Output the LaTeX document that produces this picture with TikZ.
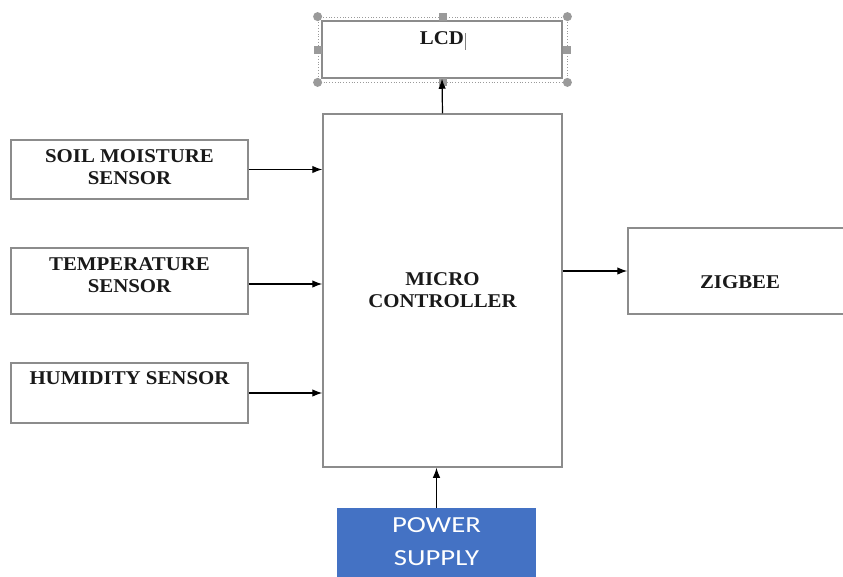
\documentclass[tikz,border=0pt]{standalone}
\usepackage{fontspec}
\usetikzlibrary{arrows.meta, calc}
\newfontfamily\boxfont[FakeStretch=1.07]{Liberation Serif}
\newfontfamily\supplyfont[FakeStretch=1.25]{Carlito}
\definecolor{boxgray}{HTML}{8C8C8C}
\definecolor{handlegray}{HTML}{9A9A9A}
\definecolor{supplyblue}{HTML}{4472C4}

\begin{document}
\begin{tikzpicture}[
    block/.style={draw=boxgray, line width=1.5pt, minimum width=237pt, minimum height=59pt, inner sep=0pt},
    lbl/.style={font=\boxfont\bfseries\fontsize{19.5}{22.5}\selectfont, text=black!90, align=center, inner sep=0pt, anchor=north},
    supply/.style={fill=supplyblue, draw=none, minimum width=199pt, minimum height=82pt, inner sep=0pt},
    supplylbl/.style={font=\supplyfont\fontsize{23}{33}\selectfont, text=white, align=center, inner sep=0pt, anchor=north},
    link/.style={-{Latex[length=10pt, width=7.5pt]}, line width=1.2pt, black},
    selframe/.style={draw=handlegray, line width=0.8pt, dotted},
    handle/.style={fill=handlegray},
    x=1pt, y=-1pt]

    \path[use as bounding box, clip] (0,0) rectangle (843,576);
    \fill[white] (0,0) rectangle (843,576);

    % ================= the sensors =================
    \node[block] (soil) at (129.5,169.5) {};
    \node[lbl] (soiltxt) at ([yshift=-10pt]soil.north) {SOIL MOISTURE\\SENSOR};

    \node[block, minimum height=66pt] (temp) at (129.5,281) {};
    \node[lbl] (temptxt) at ([yshift=-10pt]temp.north) {TEMPERATURE\\SENSOR};

    \node[block, minimum height=60pt] (hum) at (129.5,393) {};
    \node[lbl] (humtxt) at ([yshift=-9pt]hum.north) {HUMIDITY SENSOR};

    % ================= controller, display, radio =================
    \node[block, minimum width=239pt, minimum height=353pt] (mc) at (442.5,290.5) {};
    \node[lbl] (mctxt) at ([yshift=18.5pt]mc.center) {MICRO\\CONTROLLER};

    \node[block, minimum width=240pt, minimum height=57pt] (lcd) at (442,49.5) {};
    \node[lbl] (lcdtxt) at ([yshift=-11pt]lcd.north) {LCD};

    \node[block, minimum width=220pt, minimum height=86pt] (zig) at (738,271) {};
    \node[lbl] (zigtxt) at ([shift={(2,48)}]zig.north) {ZIGBEE};

    % ================= the supply =================
    \node[supply] (pwr) at (436.5,549) {};
    \node[supplylbl] (pwrtxt) at ([yshift=-10pt]pwr.north) {POWER\\SUPPLY};

    % the LCD box is shown selected: frame, handles and text cursor -
    \node[selframe, minimum width=249pt, minimum height=65pt, inner sep=0pt] (lcdsel) at (442.5,49.5) {};
    \foreach \a in {north west, north east, south west, south east}
        \fill[handle] (lcdsel.\a) circle (4.5pt);
    \foreach \a in {north, south, east, west}
        \fill[handle] ([shift={(-4,-4)}]lcdsel.\a) rectangle +(8,8);
    \draw[gray, line width=0.6pt] ([shift={(1,2)}]lcdtxt.north east) -- ++(0,17);

    % signal paths -
    \draw[link] (soil.east) -- (soil.east -| mc.west);
    \draw[link] ([yshift=-3pt]temp.east) -- ([yshift=-3pt]temp.east -| mc.west);
    \draw[link] (hum.east) -- (hum.east -| mc.west);
    \draw[link] (mc.east |- zig.west) -- (zig.west);
    \draw[link] (mc.north) -- (lcd.south);
    \draw[link] (pwr.north) -- (pwr.north |- mc.south);
\end{tikzpicture}
\end{document}
